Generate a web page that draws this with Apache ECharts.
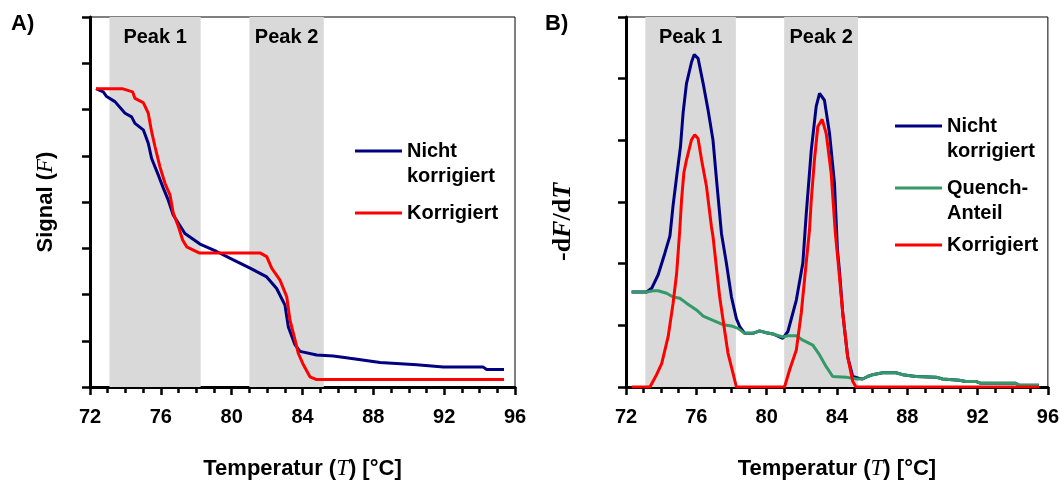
<!DOCTYPE html>
<html><head><meta charset="utf-8">
<script src="https://cdn.jsdelivr.net/npm/echarts@6/dist/echarts.min.js"></script>
<style>html,body{margin:0;padding:0;background:#fff}#c{width:1062px;height:485px}</style>
</head><body><div id="c"></div>
<script>
// Peak bands [from, to, label]
const peakBands = [[73.1, 78.25, 'Peak 1'], [81.0, 85.2, 'Peak 2']];
// Panel A: Signal (F)
const aNicht = [[72.34,6.45],[72.75,6.38],[72.94,6.28],[73.41,6.17],[73.98,5.92],[74.35,5.84],[74.54,5.70],[75.01,5.56],[75.29,5.27],[75.48,4.94],[75.86,4.58],[76.14,4.30],[76.42,4.04],[76.70,3.72],[77.36,3.32],[78.21,3.09],[79.15,2.93],[80.09,2.75],[81.04,2.57],[81.98,2.38],[82.54,2.13],[83.01,1.77],[83.20,1.30],[83.58,0.91],[83.86,0.77],[84.80,0.69],[85.74,0.67],[86.68,0.62],[88.38,0.53],[90.45,0.48],[91.95,0.43],[94.21,0.43],[94.40,0.38],[95.38,0.38]];
const aKorr = [[72.34,6.45],[73.82,6.45],[74.41,6.38],[74.54,6.24],[75.01,6.15],[75.29,5.92],[75.48,5.52],[75.67,5.20],[75.95,4.76],[76.24,4.40],[76.52,4.15],[76.70,3.76],[76.99,3.47],[77.23,3.18],[77.46,3.03],[78.16,2.90],[81.60,2.90],[81.98,2.82],[82.26,2.57],[82.73,2.31],[83.11,1.95],[83.29,1.45],[83.58,1.02],[83.76,0.73],[84.05,0.48],[84.42,0.22],[84.80,0.16],[95.38,0.16]];
// Panel B: -dF/dT
const bNicht = [[72.32,1.54],[73.17,1.54],[73.46,1.60],[73.83,1.82],[74.21,2.17],[74.50,2.45],[74.68,2.95],[74.88,3.41],[75.10,3.90],[75.25,4.45],[75.44,4.92],[75.73,5.27],[75.88,5.39],[76.10,5.33],[76.39,4.92],[76.67,4.49],[76.95,4.00],[77.15,3.36],[77.43,2.49],[77.71,2.01],[78.00,1.46],[78.28,1.11],[78.47,0.98],[78.75,0.87],[79.22,0.87],[79.60,0.91],[79.98,0.88],[80.36,0.86],[80.92,0.79],[81.21,0.90],[81.69,1.41],[82.06,2.01],[82.25,2.79],[82.54,3.84],[82.82,4.55],[83.01,4.76],[83.29,4.65],[83.58,4.11],[83.86,3.30],[84.03,2.22],[84.14,1.90],[84.33,1.20],[84.61,0.49],[84.90,0.17],[85.28,0.14],[85.46,0.13],[85.75,0.17],[86.03,0.20],[86.60,0.23],[87.36,0.23],[87.74,0.20],[88.49,0.17],[89.63,0.16],[90.01,0.13],[90.95,0.11],[91.33,0.09],[91.90,0.09],[92.18,0.06],[94.17,0.06],[94.35,0.03],[95.49,0.03]];
const bQuench = [[72.32,1.54],[73.17,1.54],[73.55,1.56],[73.83,1.56],[74.31,1.52],[74.68,1.46],[75.06,1.44],[75.44,1.36],[76.01,1.25],[76.39,1.15],[76.95,1.08],[77.52,1.01],[78.00,0.99],[78.37,0.95],[78.75,0.87],[79.22,0.87],[79.60,0.91],[79.98,0.88],[80.36,0.86],[80.92,0.81],[81.21,0.83],[81.69,0.83],[82.06,0.76],[82.63,0.68],[83.01,0.52],[83.39,0.33],[83.76,0.17],[84.52,0.16],[85.09,0.13],[85.46,0.13],[85.75,0.17],[86.03,0.20],[86.60,0.23],[87.36,0.23],[87.74,0.20],[88.49,0.17],[89.63,0.16],[90.01,0.13],[90.95,0.11],[91.33,0.09],[91.90,0.09],[92.18,0.06],[94.17,0.06],[94.35,0.03],[95.49,0.03]];
const bKorr = [[72.32,0],[73.36,0],[73.74,0.20],[74.03,0.38],[74.40,0.82],[74.68,1.36],[74.88,1.84],[75.06,2.55],[75.16,3.03],[75.29,3.47],[75.44,3.68],[75.73,4.01],[75.91,4.09],[76.10,4.03],[76.30,3.68],[76.58,3.25],[76.86,2.60],[76.95,2.44],[77.33,1.46],[77.80,0.55],[78.09,0.22],[78.28,0],[81.02,0],[81.31,0.28],[81.69,0.60],[81.97,1.20],[82.25,2.01],[82.44,2.55],[82.54,3.03],[82.72,3.68],[82.91,4.22],[83.16,4.34],[83.39,4.11],[83.67,3.47],[83.91,2.49],[84.04,2.11],[84.33,1.20],[84.61,0.49],[84.90,0.09],[85.09,0],[95.49,0]];

const SANS = "'Liberation Sans', Arial, sans-serif";
const SERIF = "'Liberation Serif', 'Times New Roman', serif";
const NAVY = '#000080', RED = '#ff0000', GREEN = '#339966';

const chart = echarts.init(document.getElementById('c'));

function xAx(gi) {
  return {
    type: 'value', gridIndex: gi, min: 72, max: 96, interval: 4,
    axisLine: {onZero: false, lineStyle: {color: '#000', width: 3}},
    axisTick: {length: 8, lineStyle: {color: '#000', width: 2.5}},
    minorTick: {show: true, splitNumber: 4, length: 6, lineStyle: {color: '#000', width: 2.5}},
    splitLine: {show: false},
    axisLabel: {color: '#000', fontSize: 20, fontWeight: 'bold', fontFamily: SANS, margin: 20},
    name: 'Temperatur ({it|T}) [°C]', nameLocation: 'middle', nameGap: 70,
    nameTextStyle: {color: '#000', fontSize: 22, fontWeight: 'bold', fontFamily: SANS,
      rich: {it: {fontFamily: SERIF, fontStyle: 'italic', fontSize: 23, fontWeight: 'normal', color: '#000'}}}
  };
}
function yAx(gi, max, name, gap, pad, size, rich) {
  return {
    type: 'value', gridIndex: gi, min: 0, max: max, interval: 1,
    axisLine: {show: true, lineStyle: {color: '#000', width: 3}},
    axisTick: {show: true, length: 8, lineStyle: {color: '#000', width: 2.5}},
    axisLabel: {show: false}, splitLine: {show: false},
    name: name, nameLocation: 'middle', nameRotate: 90, nameGap: gap,
    nameTextStyle: {color: '#000', fontSize: size, fontWeight: 'bold', fontFamily: SANS, padding: pad, rich: rich}
  };
}
function bandSeries(xi, yi) {
  return {
    type: 'line', xAxisIndex: xi, yAxisIndex: yi, data: [], z: 1, silent: true,
    markArea: {
      silent: true,
      itemStyle: {color: '#d9d9d9'},
      label: {show: true, position: 'insideTop', distance: 10, color: '#000', fontSize: 20, fontWeight: 'bold', fontFamily: SANS},
      data: peakBands.map(b => [{xAxis: b[0], name: b[2]}, {xAxis: b[1]}])
    }
  };
}
function lineSeries(name, data, color, xi, yi) {
  return {name: name, type: 'line', xAxisIndex: xi, yAxisIndex: yi, data: data, showSymbol: false, symbol: 'none',
    color: color, lineStyle: {color: color, width: 3}, z: 3, animation: false};
}
const legendText = {'Nicht korrigiert': '\nNicht\nkorrigiert', 'Quench-Anteil': '\nQuench-\nAnteil', 'Korrigiert': 'Korrigiert'};
function leg(name, left, top) {
  return {data: [name], left: left, top: top, orient: 'vertical', padding: 0, icon: 'rect', itemWidth: 47, itemHeight: 3,
    selectedMode: false, formatter: n => legendText[n],
    textStyle: {color: '#000', fontSize: 20, fontWeight: 'bold', fontFamily: SANS, lineHeight: 25}};
}

chart.setOption({
  animation: false,
  backgroundColor: '#fff',
  title: [
    {text: 'A)', left: 11, top: 13, padding: 0, textStyle: {fontSize: 22, fontWeight: 'bold', fontFamily: SANS, color: '#000'}},
    {text: 'B)', left: 545, top: 13, padding: 0, textStyle: {fontSize: 22, fontWeight: 'bold', fontFamily: SANS, color: '#000'}}
  ],
  grid: [
    {left: 90, top: 17, width: 425, height: 370, show: true, borderColor: '#000', borderWidth: 1, backgroundColor: 'transparent'},
    {left: 626, top: 17, width: 423, height: 370, show: true, borderColor: '#000', borderWidth: 1, backgroundColor: 'transparent'}
  ],
  xAxis: [xAx(0), xAx(1)],
  yAxis: [
    yAx(0, 8, 'Signal ({it|F})', 33, [0, 0, 0, 0], 22, {it: {fontFamily: SERIF, fontStyle: 'italic', fontSize: 23, fontWeight: 'normal', color: '#000'}}),
    yAx(1, 6, '{n|-d}{it|F}{n|/d}{it|T}', 50, [0, 40, 0, 0], 26, {
      n: {fontFamily: SERIF, fontWeight: 'bold', fontSize: 26, color: '#000'},
      it: {fontFamily: SERIF, fontStyle: 'italic', fontWeight: 'bold', fontSize: 26, color: '#000'}})
  ],
  legend: [
    leg('Nicht korrigiert', 355, 113.5),
    leg('Korrigiert', 355, 200.5),
    leg('Nicht korrigiert', 895, 88.5),
    leg('Quench-Anteil', 895, 150.5),
    leg('Korrigiert', 895, 232.5)
  ],
  series: [
    bandSeries(0, 0),
    bandSeries(1, 1),
    lineSeries('Nicht korrigiert', aNicht, NAVY, 0, 0),
    lineSeries('Korrigiert', aKorr, RED, 0, 0),
    lineSeries('Nicht korrigiert', bNicht, NAVY, 1, 1),
    lineSeries('Quench-Anteil', bQuench, GREEN, 1, 1),
    lineSeries('Korrigiert', bKorr, RED, 1, 1)
  ]
});
</script></body></html>
